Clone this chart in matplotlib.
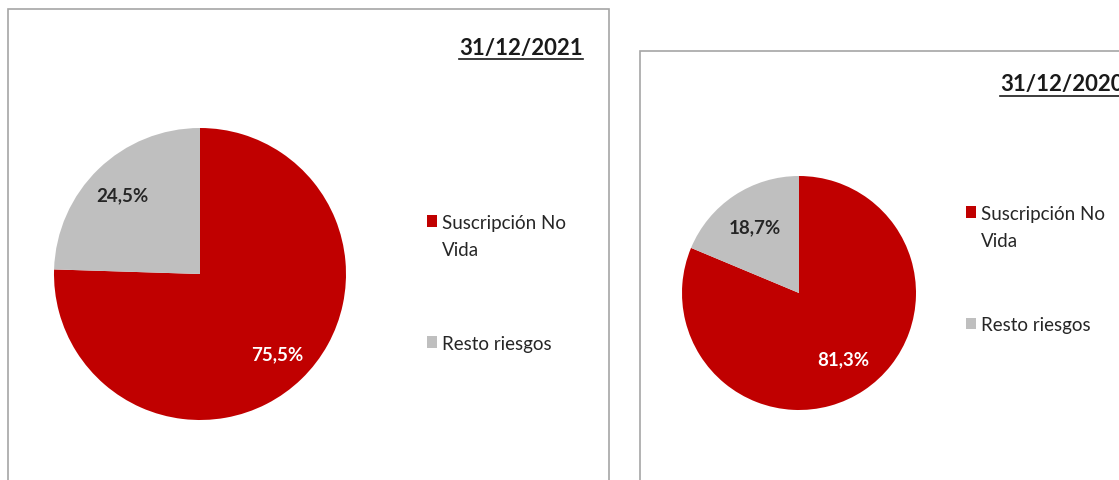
import matplotlib
matplotlib.use("Agg")
import matplotlib.pyplot as plt
from matplotlib.patches import Rectangle
from matplotlib.lines import Line2D
from matplotlib.legend_handler import HandlerPatch

plt.rcParams['font.family'] = ['Lato', 'DejaVu Sans']

# datos
categorias = ['Suscripción No\nVida', 'Resto riesgos']
fechas = ['31/12/2021', '31/12/2020']
valores_2021 = [75.5, 24.5]
valores_2020 = [81.3, 18.7]
colores = ['#C00000', '#BFBFBF']

W, H = 1119, 481


def fx(px):
    return px / W


def fy(py):
    return 1 - py / H


def fmt(p):
    return f"{p:.1f}%".replace('.', ',')


# cuadradito de leyenda subido a la primera linea del texto
def cuadro_arriba(legend, orig_handle, xdescent, ydescent, width, height, fontsize):
    return Rectangle((-xdescent, -ydescent + 11), width, height)


fig = plt.figure(figsize=(W / 100, H / 100), dpi=100)

# marcos de cada grafico
fig.patches.append(Rectangle((fx(8), fy(500)), fx(609) - fx(8), fy(10) - fy(500),
                             transform=fig.transFigure, fill=False,
                             edgecolor='#A6A6A6', linewidth=1.2))
fig.patches.append(Rectangle((fx(640), fy(500)), fx(1140) - fx(640), fy(52) - fy(500),
                             transform=fig.transFigure, fill=False,
                             edgecolor='#A6A6A6', linewidth=1.2))

paneles = [
    dict(valores=valores_2021, fecha=fechas[0], cx=200, cy=275, r=146,
         pctd=0.76, titulo=(583, 48), leyenda=(410, 198), sep=4.1),
    dict(valores=valores_2020, fecha=fechas[1], cx=799, cy=294, r=117,
         pctd=0.68, titulo=(1124, 85), leyenda=(949, 189), sep=3.6),
]

renderer = fig.canvas.get_renderer()

for p in paneles:
    cx, cy, r = p['cx'], p['cy'], p['r']
    ax = fig.add_axes([fx(cx - r), fy(cy + r), 2 * r / W, 2 * r / H])
    wedges, _, autotexts = ax.pie(p['valores'], colors=colores, startangle=90,
                                  counterclock=False, autopct=fmt,
                                  pctdistance=p['pctd'], radius=1,
                                  textprops=dict(fontsize=13.5, fontweight='bold'))
    autotexts[0].set_color('white')
    autotexts[1].set_color('#262626')
    ax.set_xlim(-1, 1)
    ax.set_ylim(-1, 1)
    ax.set_aspect('auto')
    ax.axis('off')

    leg = fig.legend(wedges, categorias, loc='upper left',
                     bbox_to_anchor=(fx(p['leyenda'][0]), fy(p['leyenda'][1])),
                     frameon=False, fontsize=13.5, handlelength=0.55, handleheight=0.55,
                     handletextpad=0.25, labelspacing=p['sep'], labelcolor='#262626',
                     handler_map={wedges[0]: HandlerPatch(patch_func=cuadro_arriba)})
    for t in leg.get_texts():
        t.set_linespacing(1.7)

    t = fig.text(fx(p['titulo'][0]), fy(p['titulo'][1]), p['fecha'], ha='right',
                 va='center', fontsize=16, fontweight='bold', color='#1a1a1a')
    bb = t.get_window_extent(renderer).transformed(fig.transFigure.inverted())
    fig.lines.append(Line2D([bb.x0, bb.x1], [bb.y0 - 0.003, bb.y0 - 0.003],
                            transform=fig.transFigure, color='#1a1a1a', linewidth=1.2))

fig.savefig('out.png', dpi=100)
